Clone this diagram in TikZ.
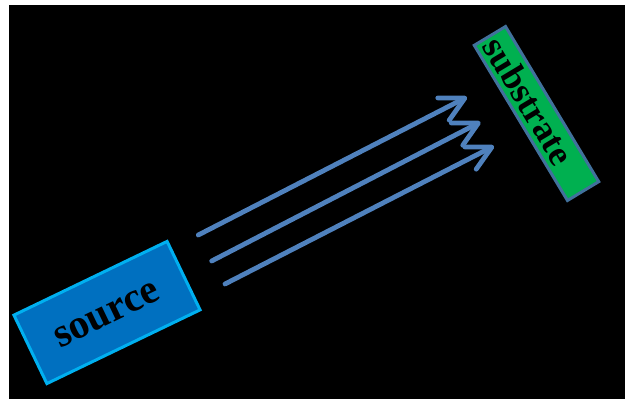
\documentclass[tikz,border=0pt]{standalone}
\usepackage{fontspec}
\setmainfont{Liberation Serif}
\usetikzlibrary{arrows.meta,calc}
\definecolor{srcfill}{HTML}{0070C0}
\definecolor{srcline}{HTML}{00B0F0}
\definecolor{subfill}{HTML}{00B050}
\definecolor{subline}{HTML}{41719C}
\definecolor{beam}{HTML}{4F81BD}
\tikzset{
  srcbox/.style={draw=srcline,fill=srcfill,line width=3pt,inner sep=0pt,minimum width=170pt,minimum height=76pt,rotate=25.7},
  subbox/.style={draw=subline,fill=subfill,line width=3pt,inner sep=0pt,minimum width=181pt,minimum height=36.5pt,rotate=-59},
  lbl/.style={font=\bfseries\fontsize{41}{41}\selectfont,text=black,inner sep=0pt},
  ray/.style={draw=beam,line width=4.8pt,line cap=round,-{Straight Barb[length=24pt,width=25pt,round]}}
}
\begin{document}
\begin{tikzpicture}[x=1pt,y=-1pt]
\useasboundingbox (0,0) rectangle (625,399);
\fill[white] (0,0) rectangle (625,399);
\fill[black] (9,5) rectangle (625,399);
\node[srcbox] (src) at (107,312.5) {};
\node[lbl,rotate=25.7] (srclbl) at (107,315) {source};
\node[subbox] (sub) at (536.5,113.5) {};
\node[lbl,font=\bfseries\fontsize{36}{36}\selectfont,rotate=-59] (sublbl) at ($(sub.center)!15pt!(sub.west)$) {substrate};
\coordinate (a1s) at (198.3,235);
\coordinate (a1e) at (467,97);
\coordinate (a2s) at (211.7,261);
\coordinate (a2e) at (480.5,122);
\coordinate (a3s) at (225,284);
\coordinate (a3e) at (494,146);
\draw[ray] (a1s) -- (a1e);
\draw[ray] (a2s) -- (a2e);
\draw[ray] (a3s) -- (a3e);
\end{tikzpicture}
\end{document}
